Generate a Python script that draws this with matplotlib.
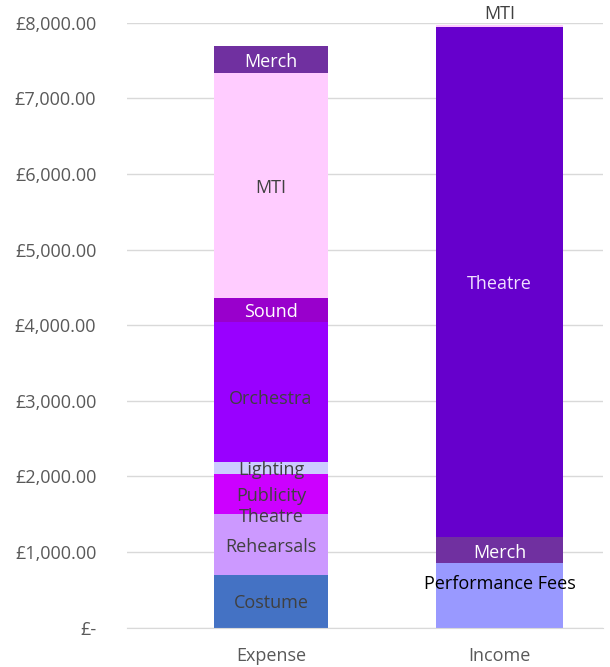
import matplotlib
matplotlib.use("Agg")
import matplotlib.pyplot as plt
from matplotlib.ticker import FuncFormatter

categories = ["Expense", "Income"]

expense_labels = ["Costume", "Rehearsals", "Theatre", "Publicity", "Lighting",
                  "Orchestra", "Sound", "MTI", "Merch"]
expense_values = [700, 800, 0, 530, 160, 1850, 320, 2970, 365]

income_labels = ["Performance Fees", "Merch", "Theatre", "MTI"]
income_values = [850, 345, 6750, 25]

colors = {
    "Costume": "#4472c4",
    "Rehearsals": "#cc99ff",
    "Theatre": "#6600cc",
    "Publicity": "#cc00ff",
    "Lighting": "#ccccff",
    "Orchestra": "#9900ff",
    "Sound": "#9900cc",
    "MTI": "#ffccff",
    "Merch": "#7030a0",
    "Performance Fees": "#9999ff",
}
text_colors = {
    "Sound": "white",
    "Merch": "white",
    "Performance Fees": "black",
}

y_ticks = [0, 1000, 2000, 3000, 4000, 5000, 6000, 7000, 8000]

plt.rcParams["font.family"] = ["Open Sans", "DejaVu Sans"]

fig = plt.figure(figsize=(6.10, 6.67), dpi=100)
ax = fig.add_axes([0.208, 0.0589, 0.7805, 0.907])

x_pos = [0, 1]
widths = [0.5, 0.556]
FS = 13


def put_label(x, y, lab, tc, clip=True):
    ax.annotate(lab, xy=(x, y), xytext=(0, -1.6), textcoords="offset points",
                ha="center", va="center", fontsize=FS, color=tc, zorder=3,
                annotation_clip=False)


def draw_stack(x, w, labels, values, bar_idx):
    bottom = 0
    for lab, val in zip(labels, values):
        ax.bar(x, val, width=w, bottom=bottom, color=colors[lab], zorder=2)
        tc = text_colors.get(lab, "#404040")
        if bar_idx == 1 and lab == "Theatre":
            tc = "#f0e0ff"
        if bar_idx == 1 and lab == "MTI":
            put_label(x, bottom + val + 170, lab, "#404040")
        elif bar_idx == 1 and lab == "Performance Fees":
            put_label(x, bottom + val * 0.71, lab, tc)
        elif bar_idx == 0 and lab == "Orchestra":
            put_label(x, bottom + val * 0.47, lab, tc)
        else:
            put_label(x, bottom + val / 2, lab, tc)
        bottom += val


draw_stack(x_pos[0], widths[0], expense_labels, expense_values, 0)
draw_stack(x_pos[1], widths[1], income_labels, income_values, 1)

ax.set_xlim(-0.630, 1.453)
ax.set_ylim(0, 8000)
ax.set_yticks(y_ticks)


def fmt(v, pos):
    if v == 0:
        return "£-"
    return "£{:,.2f}".format(v)


ax.yaxis.set_major_formatter(FuncFormatter(fmt))
ax.set_xticks(x_pos)
ax.set_xticklabels(categories)

ax.grid(axis="y", color="#d9d9d9", linewidth=1, zorder=0)
for s in ["left", "right", "top"]:
    ax.spines[s].set_visible(False)
ax.spines["bottom"].set_color("#d9d9d9")
ax.tick_params(axis="y", length=0, pad=22, labelsize=FS, labelcolor="#595959")
ax.tick_params(axis="x", length=0, pad=14, labelsize=FS, labelcolor="#595959")

fig.savefig("out.png", dpi=100)
